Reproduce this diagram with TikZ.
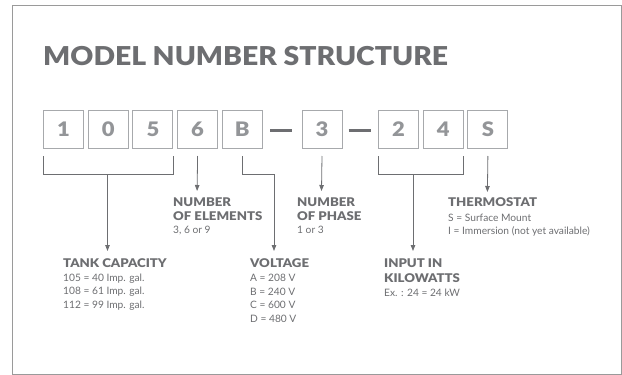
\documentclass[tikz,border=0pt]{standalone}
\usepackage{fontspec}
\setmainfont{Lato}
\newfontfamily\heavyfont{Lato Black}[FakeStretch=1.1]
\newfontfamily\titlefont{Lato Black}[FakeStretch=1.09]
\usetikzlibrary{arrows.meta}
\definecolor{txt}{HTML}{6D6E71}
\definecolor{digit}{HTML}{939598}
\definecolor{boxc}{HTML}{A7A9AC}
\definecolor{frame}{HTML}{9A9A9A}
\tikzset{
  digitbox/.style={draw=boxc, line width=1pt, minimum width=40pt, minimum height=38pt, inner sep=0pt, anchor=north west, text=digit, font=\fontsize{20}{20}\selectfont\heavyfont},
  hdr/.style={anchor=base west, inner sep=0pt, text=txt, font=\fontsize{12}{13}\selectfont\heavyfont},
  bodytxt/.style={anchor=base west, inner sep=0pt, text=txt, font=\fontsize{10.2}{11}\selectfont},
  conn/.style={draw=txt, line width=0.8pt},
  arr/.style={conn, -{Triangle[length=6pt,width=4.5pt]}},
  dashbar/.style={draw=txt, line width=3pt}
}
\begin{document}
\begin{tikzpicture}[x=1pt,y=-1pt]
\useasboundingbox (0,0) rectangle (622,375);
\draw[frame, line width=1pt] (12.5,5) rectangle (621,374);
\node[anchor=base west, inner sep=0pt, text=txt, font=\fontsize{26}{26}\selectfont\titlefont] (title) at (43,65) {MODEL NUMBER STRUCTURE};
% boxes
\node[digitbox] (b1) at (43,110) {1};
\node[digitbox] (b2) at (87.7,110) {0};
\node[digitbox] (b3) at (132.4,110) {5};
\node[digitbox] (b4) at (177.1,110) {6};
\node[digitbox] (b5) at (221.8,110) {B};
\node[digitbox] (b6) at (301.5,110) {3};
\node[digitbox] (b7) at (378,110) {2};
\node[digitbox] (b8) at (422.7,110) {4};
\node[digitbox] (b9) at (467.4,110) {S};
% dashes
\coordinate (d1a) at (270,130.5); \coordinate (d1b) at (292,130.5);
\coordinate (d2a) at (348.5,130.5); \coordinate (d2b) at (370.5,130.5);
\draw[dashbar] (d1a) -- (d1b);
\draw[dashbar] (d2a) -- (d2b);
% labels
\node[hdr] (elA) at (173,206) {NUMBER};
\node[hdr] (elB) at (173,220) {OF ELEMENTS};
\node[bodytxt] (elC) at (173,233) {3, 6 or 9};
\node[hdr] (phA) at (297,206) {NUMBER};
\node[hdr] (phB) at (297,220) {OF PHASE};
\node[bodytxt] (phC) at (297,233) {1 or 3};
\node[hdr] (thA) at (448,206) {THERMOSTAT};
\node[bodytxt] (thB) at (448,221) {S = Surface Mount};
\node[bodytxt] (thC) at (448,234) {I = Immersion (not yet available)};
\node[hdr] (tkA) at (63,267.5) {TANK CAPACITY};
\node[bodytxt] (tkB) at (63,281) {105 = 40 Imp. gal.};
\node[bodytxt] (tkC) at (63,294.5) {108 = 61 Imp. gal.};
\node[bodytxt] (tkD) at (63,308) {112 = 99 Imp. gal.};
\node[hdr] (vA) at (250,267.5) {VOLTAGE};
\node[bodytxt] (vB) at (250,281.5) {A = 208 V};
\node[bodytxt] (vC) at (250,295) {B = 240 V};
\node[bodytxt] (vD) at (250,308.5) {C = 600 V};
\node[bodytxt] (vE) at (250,322) {D = 480 V};
\node[hdr] (inA) at (384,267.5) {INPUT IN};
\node[hdr] (inB) at (384,282) {KILOWATTS};
\node[bodytxt] (inC) at (384,296) {Ex. : 24 = 24 kW};
% connector end points
\coordinate (elT) at (197.1,191);
\coordinate (phT) at (321.5,191);
\coordinate (thT) at (487.4,192);
\coordinate (tkT) at (107.5,251);
\coordinate (vT) at (274,251);
\coordinate (inT) at (413,251);
% tank bracket
\draw[conn] ([yshift=-7pt]b1.south west) |- ([yshift=-25pt]b3.south east) coordinate (tkR) -- ([yshift=-7pt]b3.south east);
\draw[arr] (tkT |- tkR) -- (tkT);
% elements
\draw[arr] ([yshift=-7pt]b4.south) -- (elT);
% voltage
\draw[arr] ([yshift=-7pt]b5.south) |- ([yshift=-25pt]b5.south -| vT) -- (vT);
% phase
\draw[arr] ([yshift=-7pt]b6.south) -- (phT);
% input bracket
\draw[conn] ([yshift=-7pt]b7.south west) |- ([yshift=-25pt]b8.south east) coordinate (inR) -- ([yshift=-7pt]b8.south east);
\draw[arr] (inT |- inR) -- (inT);
% thermostat
\draw[arr] ([yshift=-7pt]b9.south) -- (thT);
\end{tikzpicture}
\end{document}
